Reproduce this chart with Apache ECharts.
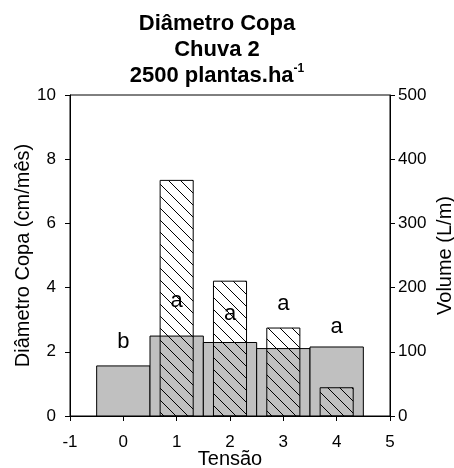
<!DOCTYPE html>
<html>
<head>
<meta charset="utf-8">
<script src="https://cdn.jsdelivr.net/npm/echarts@6/dist/echarts.min.js"></script>
<style>
html,body{margin:0;padding:0;background:#fff;}
#c{width:454px;height:468px;}
</style>
</head>
<body>
<div id="c"></div>
<script>
// Data
const tensao = [0, 1, 2, 3, 4];
const diametro = [1.56, 2.49, 2.29, 2.10, 2.15];
const volumeX = [1, 2, 3, 4];
const volume = [367, 210, 137, 44];
const letras = ['b', 'a', 'a', 'a', 'a'];
const letraY = [2.31, 3.57, 3.18, 3.48, 2.79];
const xTicks = [-1, 0, 1, 2, 3, 4, 5];
const yLeftTicks = [0, 2, 4, 6, 8, 10];
const yRightTicks = [0, 100, 200, 300, 400, 500];

const FONT = '"Liberation Sans", Arial, sans-serif';

// hatch pattern
const tile = document.createElement('canvas');
const T = 12;
tile.width = T; tile.height = T;
const ctx = tile.getContext('2d');
ctx.strokeStyle = '#000';
ctx.lineWidth = 1;
ctx.beginPath();
ctx.moveTo(-2, -2); ctx.lineTo(T + 2, T + 2);
ctx.moveTo(-2, T - 2); ctx.lineTo(2, T + 2);
ctx.moveTo(T - 2, -2); ctx.lineTo(T + 2, 2);
ctx.stroke();

const chart = echarts.init(document.getElementById('c'), null, {renderer: 'canvas'});

function barRenderer(halfW, fill, stroke) {
  return function (params, api) {
    const x = api.value(0), y = api.value(1);
    const p0 = api.coord([x - halfW, 0]);
    const p1 = api.coord([x + halfW, y]);
    return {
      type: 'rect',
      shape: {x: p0[0], y: p1[1], width: p1[0] - p0[0], height: p0[1] - p1[1]},
      style: {fill: fill, stroke: stroke, lineWidth: 1}
    };
  };
}

const axisCommon = {
  axisLine: {show: true, onZero: false, lineStyle: {color: '#000', width: 1}},
  axisTick: {show: true, inside: false, length: 5, lineStyle: {color: '#000'}},
  splitLine: {show: false},
  nameMoveOverlap: false,
  axisLabel: {color: '#000', fontFamily: FONT, fontSize: 17}
};

chart.setOption({
  animation: false,
  backgroundColor: '#fff',
  title: {
    text: '{a|Diâmetro Copa}\n{a|Chuva 2}\n{a|2500 plantas.ha}{s|-1}',
    left: 212,
    textAlign: 'center',
    top: 6,
    textStyle: {
      rich: {
        a: {fontFamily: FONT, fontSize: 22, fontWeight: 'bold', color: '#000', lineHeight: 26},
        s: {fontFamily: FONT, fontSize: 12, fontWeight: 'bold', color: '#000', verticalAlign: 'top', lineHeight: 26}
      }
    }
  },
  grid: {left: 70, right: 64, top: 95, bottom: 52, containLabel: false, outerBoundsMode: 'none',
    show: true, borderColor: '#000', borderWidth: 1, backgroundColor: 'transparent'},
  xAxis: Object.assign({}, axisCommon, {
    type: 'value', min: xTicks[0], max: xTicks[xTicks.length - 1], interval: 1,
    name: 'Tensão', nameLocation: 'middle', nameGap: 33,
    nameTextStyle: {fontFamily: FONT, fontSize: 20, color: '#000'},
    axisLabel: Object.assign({}, axisCommon.axisLabel, {margin: 18})
  }),
  yAxis: [
    Object.assign({}, axisCommon, {
      type: 'value', min: yLeftTicks[0], max: yLeftTicks[yLeftTicks.length - 1], interval: 2,
      name: 'Diâmetro Copa (cm/mês)', nameLocation: 'middle', nameGap: 37,
      nameTextStyle: {fontFamily: FONT, fontSize: 20, color: '#000'},
      axisLabel: Object.assign({}, axisCommon.axisLabel, {margin: 14})
    }),
    Object.assign({}, axisCommon, {
      type: 'value', position: 'right', min: yRightTicks[0], max: yRightTicks[yRightTicks.length - 1], interval: 100,
      name: 'Volume (L/m)', nameLocation: 'middle', nameGap: 45,
      nameTextStyle: {fontFamily: FONT, fontSize: 20, color: '#000'},
      axisLabel: Object.assign({}, axisCommon.axisLabel, {margin: 8})
    })
  ],
  series: [
    {
      type: 'custom', name: 'Diâmetro', xAxisIndex: 0, yAxisIndex: 0, z: 2,
      renderItem: barRenderer(0.5, '#c0c0c0', '#000'),
      data: tensao.map((t, i) => [t, diametro[i]])
    },
    {
      type: 'custom', name: 'Volume', xAxisIndex: 0, yAxisIndex: 1, z: 3,
      renderItem: barRenderer(0.31, {image: tile, repeat: 'repeat'}, '#000'),
      data: volumeX.map((t, i) => [t, volume[i]])
    },
    {
      type: 'custom', name: 'Letras', xAxisIndex: 0, yAxisIndex: 0, z: 4,
      renderItem: function (params, api) {
        const p = api.coord([api.value(0), api.value(1)]);
        return {
          type: 'text',
          style: {text: letras[params.dataIndex], x: p[0], y: p[1], align: 'center', verticalAlign: 'middle',
            font: '22px ' + FONT, fill: '#000'}
        };
      },
      data: tensao.map((t, i) => [t, letraY[i]])
    }
  ]
});
</script>
</body>
</html>
